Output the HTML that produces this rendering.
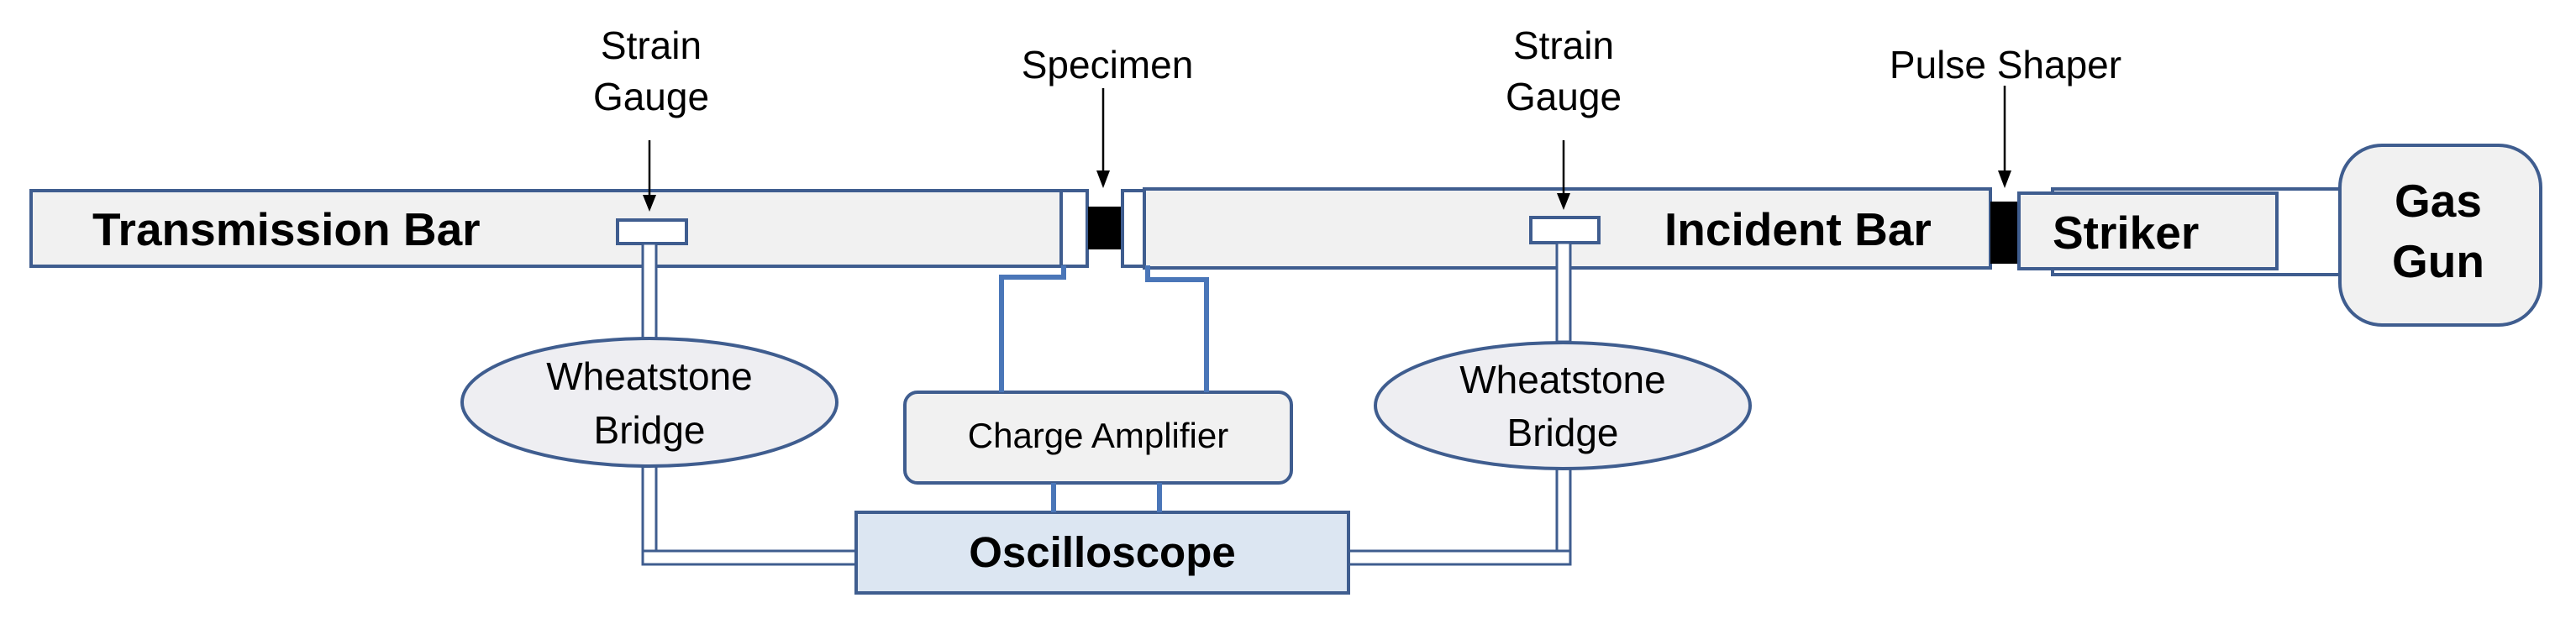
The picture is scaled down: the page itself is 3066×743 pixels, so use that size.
<!DOCTYPE html>
<html><head><meta charset="utf-8"><style>
html,body{margin:0;padding:0;background:#fff;}
svg{display:block;}
text{font-family:"Liberation Sans",Arial,sans-serif;fill:#000;}
</style></head><body>
<svg width="3066" height="743" viewBox="0 0 3066 743" xmlns="http://www.w3.org/2000/svg">
<g stroke="#3f5d8f" stroke-width="4">
<rect x="37" y="227" width="1226" height="90" fill="#f1f1f1"/>
<rect x="1263" y="227" width="31" height="90" fill="#fff"/>
<rect x="1295" y="246" width="39" height="51" fill="#000" stroke="none"/>
<rect x="1336" y="227" width="26" height="90" fill="#fff"/>
<rect x="1362" y="225" width="1007" height="94" fill="#f1f1f1"/>
<rect x="2369" y="240" width="34" height="74" fill="#000" stroke="none"/>
<rect x="2443" y="225" width="342" height="102" fill="#fff"/>
<rect x="2403" y="230" width="307" height="90" fill="#f1f1f1"/>
<rect x="2785" y="173" width="239" height="214" rx="50" fill="#f1f1f1"/>
<rect x="735" y="262" width="82" height="28" fill="#fff"/>
<rect x="1822" y="259" width="81" height="30" fill="#fff"/>
<rect x="765" y="290" width="16" height="115" fill="#fff" stroke-width="3"/>
<rect x="765" y="553" width="16" height="110" fill="#fff" stroke-width="3"/>
<rect x="765" y="656" width="255" height="16" fill="#fff" stroke-width="3"/>
<rect x="1853" y="289" width="16" height="118" fill="#fff" stroke-width="3"/>
<rect x="1853" y="556" width="16" height="107" fill="#fff" stroke-width="3"/>
<rect x="1605" y="656" width="264" height="16" fill="#fff" stroke-width="3"/>
<ellipse cx="773" cy="479" rx="223" ry="76" fill="#eeeef2"/>
<ellipse cx="1860" cy="483" rx="223" ry="75" fill="#eeeef2"/>
<rect x="1077" y="467" width="460" height="108" rx="15" fill="#f1f1f1"/>
<rect x="1019" y="610" width="586" height="96" fill="#dce6f2"/>
</g>
<g stroke="#4a76b8" stroke-width="6" fill="none">
<polyline points="1266,316 1266,330 1192,330 1192,467"/>
<polyline points="1366,316 1366,333 1436,333 1436,467"/>
<line x1="1254" y1="575" x2="1254" y2="610"/>
<line x1="1380" y1="575" x2="1380" y2="610"/>
</g>
<g stroke="#000" stroke-width="2.5">
<line x1="773" y1="167" x2="773" y2="235"/>
<line x1="1313" y1="105" x2="1313" y2="205"/>
<line x1="1861" y1="167" x2="1861" y2="232"/>
<line x1="2386" y1="102" x2="2386" y2="205"/>
</g>
<g fill="#000">
<polygon points="765,232 781,232 773,252"/>
<polygon points="1305,203 1321,203 1313,224"/>
<polygon points="1853,230 1869,230 1861,250"/>
<polygon points="2378,203 2394,203 2386,224"/>
</g>
<g font-size="46" text-anchor="middle">
<text x="775" y="70">Strain</text>
<text x="775" y="131">Gauge</text>
<text x="1318" y="93">Specimen</text>
<text x="1861" y="70">Strain</text>
<text x="1861" y="131">Gauge</text>
<text x="2387" y="93">Pulse Shaper</text>
<text x="773" y="464">Wheatstone</text>
<text x="773" y="528">Bridge</text>
<text x="1860" y="468">Wheatstone</text>
<text x="1860" y="531">Bridge</text>
<text x="1307" y="533" font-size="42">Charge Amplifier</text>
</g>
<g font-size="55" font-weight="bold">
<text x="110" y="292">Transmission Bar</text>
<text x="1981" y="292">Incident Bar</text>
<text x="2443" y="296">Striker</text>
<text x="2902" y="258" text-anchor="middle">Gas</text>
<text x="2902" y="330" text-anchor="middle">Gun</text>
<text x="1312" y="675" text-anchor="middle" font-size="51">Oscilloscope</text>
</g>
</svg>
</body></html>
